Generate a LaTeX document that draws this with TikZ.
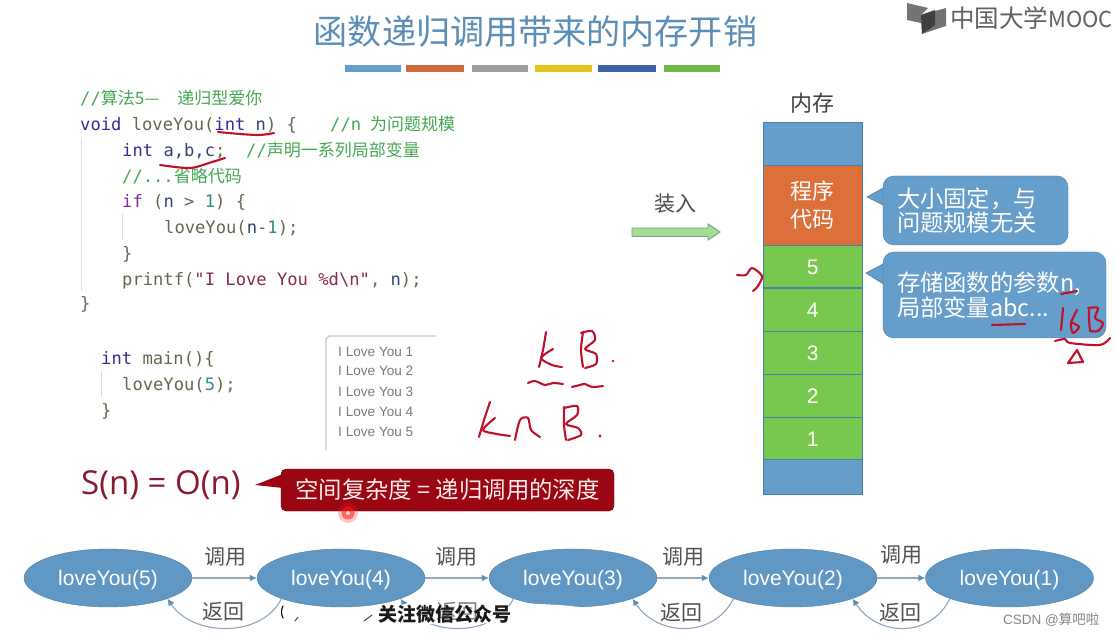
\documentclass[tikz,border=0pt]{standalone}
\usepackage{fontspec}
\usetikzlibrary{shapes.geometric,arrows.meta}
\setmainfont{Liberation Sans}
\setmonofont{DejaVu Sans Mono}
\newfontfamily\cjk{Noto Sans CJK SC}
\newcommand{\fsz}[1]{\fontsize{#1}{#1}\selectfont}
\definecolor{memblue}{HTML}{659DCB}
\definecolor{memedge}{HTML}{4A7FA6}
\definecolor{memorange}{HTML}{DC703A}
\definecolor{memgreen}{HTML}{78C850}
\definecolor{kwblue}{HTML}{3A2A95}
\definecolor{kwpurple}{HTML}{8A2B9E}
\definecolor{codegrey}{HTML}{66664F}
\definecolor{cmgreen}{HTML}{45A855}
\definecolor{numteal}{HTML}{2E8F8A}
\definecolor{strred}{HTML}{8A2A50}
\definecolor{varblue}{HTML}{33407A}
\definecolor{inkred}{HTML}{C0102A}
\definecolor{bubred}{HTML}{9A0612}
\definecolor{sncol}{HTML}{8A1A30}
\definecolor{arcgrey}{HTML}{8FA6BC}
\definecolor{flowgrey}{HTML}{98A8B8}
\definecolor{flowtip}{HTML}{5F8FB5}
\newcommand{\kw}[1]{\textcolor{kwblue}{#1}}
\newcommand{\kp}[1]{\textcolor{kwpurple}{#1}}
\newcommand{\vr}[1]{\textcolor{varblue}{#1}}
\newcommand{\nm}[1]{\textcolor{numteal}{#1}}
\newcommand{\strc}[1]{\textcolor{strred}{#1}}
\newcommand{\cmt}[1]{\textcolor{cmgreen}{\cjk\fsz{17}#1}}
\newcommand{\slsh}[1]{{\ttfamily\fsz{17.15}#1}}
\tikzset{
  x=1pt,y=-1pt,
  code/.style={anchor=base west,inner sep=0pt,text=codegrey,font=\ttfamily\fsz{17.15}},
  cell/.style={draw=memedge,line width=0.9pt,minimum width=99.5pt,inner sep=0pt,text=white},
  cellnum/.style={cell,fill=memgreen,font=\fsz{21},text height=16.4pt,text depth=0pt},
  bar/.style={minimum height=7pt,inner sep=0pt},
  callbox/.style={draw=memedge,fill=memblue,rounded corners=11pt,inner ysep=0pt,inner xsep=14pt,text=white,align=left,font=\cjk\fsz{23.3}},
  calltip/.style={draw=memedge,fill=memblue,line width=0.6pt,line join=round},
  fn/.style={ellipse,draw=memedge,fill=memblue!96!black,minimum width=168pt,minimum height=58pt,inner sep=0pt,text=white,font=\fsz{21},text height=16pt,text depth=1.2pt},
  flow/.style={flowgrey,line width=1.5pt,-{Latex[length=7pt,width=7pt,flowtip]}},
  ret/.style={arcgrey,line width=1.1pt,-{Latex[length=7pt,width=7pt,flowtip]}},
  lab/.style={inner sep=0pt,text=black!68,font=\cjk\fsz{21}},
  outline/.style={inner sep=0pt,anchor=base west,text=black!52,font=\fsz{13.6}},
  guide/.style={black!14,line width=1pt},
  ink/.style={inkred,line width=2.1pt,line cap=round,line join=round},
  wipe/.style={fill=white,draw=none},
}
\begin{document}
\begin{tikzpicture}
\useasboundingbox (0,0) rectangle (1117,636);
\fill[white] (0,0) rectangle (1117,636);

% title and logo
\node[inner sep=0pt,text=memblue!90!black,font=\cjk\fsz{34.1}] (title) at (535.5,32) {函数递归调用带来的内存开销};
\node[bar,minimum width=56pt,fill=memblue] (b1) at (373,68.5) {};
\node[bar,minimum width=58pt,fill={rgb,255:red,206;green,106;blue,60}] (b2) at (435,68.5) {};
\node[bar,minimum width=56pt,fill=black!38] (b3) at (500,68.5) {};
\node[bar,minimum width=57pt,fill={rgb,255:red,230;green,196;blue,31}] (b4) at (563.5,68.5) {};
\node[bar,minimum width=58pt,fill={rgb,255:red,63;green,98;blue,168}] (b5) at (627,68.5) {};
\node[bar,minimum width=56pt,fill=memgreen!92!black] (b6) at (692,68.5) {};
\fill[black!55] (907,3) -- (928,8) -- (921,15) -- (921,23) -- (907,20) -- cycle;
\fill[black!55] (946,8) -- (946,26) -- (922,34) -- (921,15) -- cycle;
\fill[black!75] (921,15) -- (935,10) -- (935,25) -- (922,34) -- cycle;
\node[anchor=west,inner sep=0pt,text=black!62,font=\cjk\fsz{24.5}] (logo) at (950,18) {中国大学\fsz{22}MOOC};

% code
\node[code] (c1) at (80,105) {\cmt{\slsh{//}算法5—\hspace{18pt}递归型爱你}};
\node[code] (c2) at (80,131) {\kw{void} loveYou(\kw{int} \vr{n}) \{};
\node[code] (c2c) at (330,131) {\cmt{\slsh{//n}\hspace{9pt}为问题规模}};
\node[code] (c3) at (122,157) {\kw{int} \vr{a,b,c};};
\node[code] (c3c) at (246,157) {\cmt{\slsh{//}声明一系列局部变量}};
\node[code] (c4) at (122,183) {\cmt{\slsh{//...}省略代码}};
\node[code] (c5) at (122,208) {\kp{if} (\vr{n} > \nm{1}) \{};
\node[code] (c6) at (164,234) {loveYou(\vr{n}-\nm{1});};
\node[code] (c7) at (122,260) {\}};
\node[code] (c8) at (122,286) {printf(\strc{"I Love You \%d\textbackslash n"}, \vr{n});};
\node[code] (c9) at (80,310) {\}};
\node[code] (c10) at (101,365) {\kw{int} main()\{};
\node[code] (c11) at (122,391) {loveYou(\nm{5});};
\node[code] (c12) at (101,416) {\}};
\draw[guide] (81,137) -- (81,291);
\draw[guide] (122,214) -- (122,240);
\draw[guide] (101,371) -- (101,397);

% console output
\draw[blue!25!black!22,line width=1.3pt] (326,450) -- (326,339) -- (329,336) -- (436,336);
\node[outline] (o1) at (338,356) {I Love You 1};
\node[outline] (o2) at (338,376) {I Love You 2};
\node[outline] (o3) at (338,396) {I Love You 3};
\node[outline] (o4) at (338,416) {I Love You 4};
\node[outline] (o5) at (338,436) {I Love You 5};

% complexity
\node[inner sep=0pt,anchor=west,text=sncol,font=\fontspec{Open Sans}\fsz{33}] (sn) at (81,485) {S(n) = O(n)};
\fill[bubred] (255,485) -- (283,474) -- (283,488) -- cycle;
\node[fill=bubred,draw=bubred!70!black,rounded corners=5pt,minimum width=333pt,minimum height=42pt,inner sep=0pt,text=red!8!white,font=\cjk\fsz{23.4}] (bub) at (447.5,490) {空间复杂度 = 递归调用的深度};
\fill[red!85!pink,opacity=.25] (348,513) circle[radius=10];
\fill[red!85!pink,opacity=.55] (348,513) circle[radius=6.5];
\fill[white!60!pink] (348,513) circle[radius=2];

% memory
\node[inner sep=0pt,text=black!75,font=\cjk\fsz{22}] (memt) at (812,103) {内存};
\node[cell,fill=memblue,minimum height=42.5pt] (m0) at (812.7,144) {};
\node[cell,fill=memorange,minimum height=80pt,align=center,font=\cjk\fsz{22}] (mp) at (812.7,205) {程序\\[6pt]代码};
\node[cellnum,minimum height=42.5pt] (m5) at (812.7,266.5) {5};
\node[cellnum,minimum height=43pt] (m4) at (812.7,309.5) {4};
\node[cellnum,minimum height=43pt] (m3) at (812.7,352.5) {3};
\node[cellnum,minimum height=43pt] (m2) at (812.7,395.5) {2};
\node[cellnum,minimum height=42pt] (m1) at (812.7,438) {1};
\node[cell,fill=memblue,minimum height=35pt] (m6) at (812.7,476.5) {};

% load arrow
\node[lab,text=black!70] (load) at (675,204) {装入};
\draw[fill={rgb,255:red,165;green,220;blue,143},draw={rgb,255:red,106;green,165;blue,142},line width=0.9pt,line join=miter] (632,228) -- (708,228) -- (708,224) -- (720,232) -- (708,240) -- (708,236.5) -- (632,236.5) -- cycle;

% callouts
\draw[calltip] (867,197) -- (885,187) -- (885,206) -- cycle;
\node[callbox,minimum height=69pt,text width=157pt] (ca) at (975.5,210.5) {\baselineskip=26pt 大小固定，与\\问题规模无关};
\draw[calltip] (866,273) -- (885,263) -- (885,285) -- cycle;
\node[callbox,minimum height=86pt,text width=195pt] (cb) at (994.5,295) {\baselineskip=28pt 存储函数的参数n,\\局部变量abc...};

% call chain
\node[fn] (e5) at (108,578) {loveYou(5)};
\node[fn] (e4) at (341,578) {loveYou(4)};
\node[fn] (e3) at (573,578) {loveYou(3)};
\node[fn] (e2) at (793,578) {loveYou(2)};
\node[fn] (e1) at (1009.5,578) {loveYou(1)};
\draw[flow] (e5) -- (e4);
\draw[flow] (e4) -- (e3);
\draw[flow] (e3) -- (e2);
\draw[flow] (e2) -- (e1);
\draw[ret] (e4.south west) .. controls +(-20,40) and +(25,38) .. (e5.south east);
\draw[ret] (e3.south west) .. controls +(-20,40) and +(25,38) .. (e4.south east);
\draw[ret] (e2.south west) .. controls +(-20,40) and +(25,38) .. (e3.south east);
\draw[ret] (e1.south west) .. controls +(-20,40) and +(25,38) .. (e2.south east);
\node[lab] (u1) at (225,557) {调用};
\node[lab] (u2) at (456,557) {调用};
\node[lab] (u3) at (683,557) {调用};
\node[lab] (u4) at (901,555) {调用};
\node[lab] (r1) at (223,612) {返回};
\node[lab] (r3) at (681,613) {返回};
\node[lab] (r4) at (900,613) {返回};

% garbled watermark
\fill[wipe] (284,606.5) -- (330,608) -- (385,608) -- (405,604) -- (508,604) -- (512,623) -- (433,624) -- (284,636) -- cycle;
\fill[wipe] (520,603) -- (560,605) -- (600,609) -- (622,612) -- (520,622) -- cycle;
\node[lab,text=black!50] (r2) at (457,612) {返回};
\node[inner sep=0pt,text=black!90,font=\cjk\bfseries\fsz{19}] (wm) at (445,614) {关注微信公众号};
\draw[black,line width=1.1pt,line cap=round] (283,606) .. controls (281,610) and (281,614) .. (283,618);
\draw[black!70,line width=1pt,line cap=round] (295,621) -- (298,617);
\draw[black!70,line width=1pt,line cap=round] (364,621) -- (372,615);

% handwriting
\draw[ink] plot[smooth] coordinates {(218,132) (240,134) (260,135) (274,133)};
\draw[ink] plot[smooth] coordinates {(160,165) (190,168) (212,162) (225,158)};
\draw[ink] plot[smooth] coordinates {(737,275) (746,275) (752,268) (762,276) (758,286) (753,291)};
\draw[ink] (1061,294) -- (1077,291);
\draw[ink] (992,325) -- (1025,324);
\draw[ink] plot[smooth] coordinates {(1063,308) (1062,320) (1061,330)};
\draw[ink] plot[smooth] coordinates {(1077,310) (1071,323) (1073,333) (1079,327) (1073,323)};
\draw[ink] plot[smooth] coordinates {(1089,310) (1089,320) (1090,330)};
\draw[ink] plot[smooth] coordinates {(1088,308) (1098,308) (1095,318) (1103,323) (1098,331) (1090,331)};
\draw[ink] plot[smooth] coordinates {(1055,341) (1065,339) (1070,343) (1100,345) (1110,338)};
\draw[ink] (1077,350) -- (1068,363) -- (1083,362) -- cycle;
\draw[ink] plot[smooth] coordinates {(546,332) (543,350) (539,367)};
\draw[ink] plot[smooth] coordinates {(553,349) (541,358) (552,365) (562,367)};
\draw[ink] plot[smooth] coordinates {(583,332) (581,350) (583,367)};
\draw[ink] plot[smooth] coordinates {(581,333) (592,331) (595,340) (585,349) (596,354) (596,364) (585,368)};
\fill[inkred] (613,361) circle[radius=1.4];
\draw[ink] plot[smooth] coordinates {(528,383) (535,381) (545,385) (553,383) (563,384)};
\draw[ink] plot[smooth] coordinates {(572,387) (580,385) (585,384) (592,387) (603,386)};
\draw[ink] plot[smooth] coordinates {(490,402) (484,420) (479,437)};
\draw[ink] plot[smooth] coordinates {(495,418) (483,430) (497,434) (510,436)};
\draw[ink] plot[smooth] coordinates {(515,440) (520,420) (528,418) (531,430) (540,437)};
\draw[ink] plot[smooth] coordinates {(564,407) (564,425) (566,440)};
\draw[ink] plot[smooth] coordinates {(564,408) (577,406) (577,415) (566,424) (578,428) (581,435) (568,440)};
\fill[inkred] (600,436) circle[radius=1.6];

% credit
\node[inner sep=0pt,anchor=west,text=black!48,font=\fsz{13.5}] (csdn) at (1003,620) {CSDN @{\cjk 算吧啦}};
\end{tikzpicture}
\end{document}
